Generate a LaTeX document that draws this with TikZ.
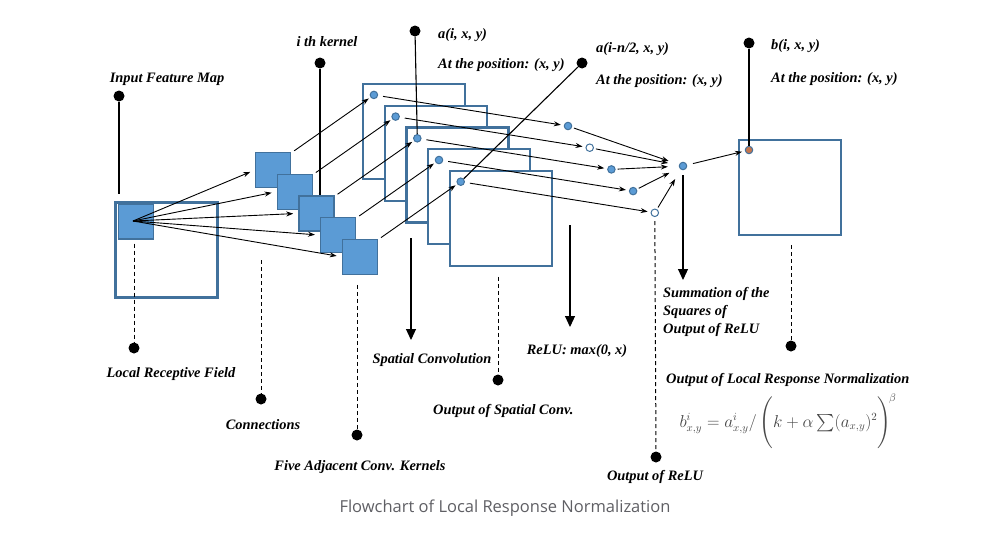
\documentclass[tikz,border=0pt]{standalone}
\usepackage{fontspec}
\setmainfont{Liberation Serif}
\newfontfamily\capfont{Open Sans}
\usepackage{amsmath}
\usetikzlibrary{arrows.meta, calc}
\definecolor{kernelblue}{RGB}{91,155,213}
\definecolor{edgeblue}{RGB}{65,113,156}
\definecolor{lrnorange}{RGB}{196,118,78}
\definecolor{capgray}{RGB}{95,95,100}

\tikzset{
  kernel/.style={draw=edgeblue, fill=kernelblue, line width=1.3pt, minimum width=35pt, minimum height=35pt, inner sep=0pt},
  fmap/.style={draw=edgeblue, fill=white, line width=2.2pt, minimum width=102pt, minimum height=95pt, inner sep=0pt},
  pixel/.style={circle, draw=edgeblue, fill=kernelblue, line width=1pt, minimum size=7.5pt, inner sep=0pt},
  hollow/.style={pixel, fill=white},
  tagdot/.style={circle, fill=black, minimum size=11pt, inner sep=0pt},
  tagtext/.style={font=\fontsize{14.4}{18}\selectfont\bfseries\itshape, inner sep=0pt},
  thin arrow/.style={-{Stealth[length=7pt,width=5pt]}, line width=0.9pt},
  big arrow/.style={-{Triangle[length=11pt,width=10pt]}, line width=1.1pt},
  lead/.style={line width=1.1pt},
  dashlead/.style={line width=1pt, dash pattern=on 4pt off 3pt},
}

\begin{document}
\begin{tikzpicture}[x=1pt, y=-1pt]
  \useasboundingbox (0,0) rectangle (1008,536);

  % Input feature map and local receptive field
  \node[fmap] (inmap) at (166.5,250) {};
  \node[kernel] (field) at (136,221.5) {};
  \coordinate (src) at (133,221);

  % Five adjacent kernels
  \foreach \i in {1,...,5}
    \node[kernel] (k\i) at ({273+21.7*(\i-1)}, {170+21.7*(\i-1)}) {};

  % Outputs of spatial convolution
  \foreach \i in {1,...,5} {
    \node[fmap] (m\i) at ({414+21.7*(\i-1)}, {131.5+21.7*(\i-1)}) {};
    \node[pixel] (d\i) at ($(m\i.north west)+(12,12)$) {};
  }

  % Outputs of ReLU and their summation
  \foreach \i/\s in {1/pixel,2/hollow,3/pixel,4/pixel,5/hollow}
    \node[\s] (r\i) at ({568+21.7*(\i-1)}, {126+21.7*(\i-1)}) {};
  \node[pixel] (sum) at (683,166) {};

  % Output of local response normalization
  \node[fmap] (outmap) at (790,187.5) {};
  \node[pixel, fill=lrnorange] (b) at (749,150) {};

  % Connections
  \foreach \i in {1,...,5} {
    \draw[thin arrow, shorten >=5pt] (src) -- (k\i.west);
    \draw[thin arrow, shorten >=2pt] ($(k\i.north east)+(3,-1)$) -- (d\i);
    \draw[thin arrow, shorten <=5pt, shorten >=3pt] (d\i) -- (r\i);
    \draw[thin arrow, shorten <=2pt, shorten >=11pt] (r\i) -- (sum);
  }
  \draw[thin arrow, shorten <=6pt, shorten >=3pt] (sum) -- (b);

  % Tags on top
  \node[tagdot] (tinput) at (119,96) {};
  \node[tagtext] (inputtext) at (167,79) {Input Feature Map};
  \draw[lead, shorten >=7pt] (tinput) -- (tinput |- inmap.north);

  \node[tagdot] (tkernel) at (320,63) {};
  \node[tagtext] (kerneltext) at (327,42) {i th kernel};
  \draw[lead] (tkernel) -- (tkernel |- k3.north);

  \node[tagdot] (ta) at (415,31) {};
  \node[tagtext, anchor=west] (atext) at (438,35) {a(i, x, y)};
  \node[tagtext, anchor=west] (aposition) at (438,65) {At the position: (x, y)};
  \draw[lead] (ta) -- (d3);

  \node[tagdot] (tan) at (582,63) {};
  \node[tagtext, anchor=west] (antext) at (596,49) {a(i-n/2, x, y)};
  \node[tagtext, anchor=west] (anposition) at (596,81) {At the position: (x, y)};
  \draw[lead] (tan) -- (d5);

  \node[tagdot] (tb) at (749,43) {};
  \node[tagtext, anchor=west] (btext) at (771,46) {b(i, x, y)};
  \node[tagtext, anchor=west] (bposition) at (771,79) {At the position: (x, y)};
  \draw[lead] (tb) -- (b);

  % Tags below
  \node[tagdot] (tfield) at (134,348) {};
  \node[tagtext] (fieldtext) at (171,374) {Local Receptive Field};
  \draw[dashlead, shorten <=4pt] (tfield |- field.south) -- (tfield);

  \coordinate (conn) at (261,260);
  \node[tagdot] (tconn) at (261,399) {};
  \node[tagtext] (conntext) at (263,425) {Connections};
  \draw[dashlead] (conn) -- (tconn);

  \node[tagdot] (tfive) at (357,435) {};
  \node[tagtext] (fivetext) at (360,467) {Five Adjacent Conv. Kernels};
  \draw[dashlead, shorten <=10pt] (tfive |- k5.south) -- (tfive);

  \node[tagdot] (tsconv) at (498,380) {};
  \node[tagtext, anchor=west] (sconvtext) at (433,411) {Output of Spatial Conv.};
  \draw[dashlead, shorten <=10pt] (tsconv |- m5.south) -- (tsconv);

  \node[tagdot] (trelu) at (656,457) {};
  \node[tagtext] (relutext) at (655,477) {Output of ReLU};
  \draw[dashlead, shorten <=4pt] (r5) -- (trelu);

  \node[tagdot] (tlrn) at (791,346) {};
  \node[tagtext, anchor=west] (lrntext) at (666,380) {Output of Local Response Normalization};
  \draw[dashlead, shorten <=9pt] (tlrn |- outmap.south) -- (tlrn);

  % Operations
  \coordinate (convstart) at (411,238);
  \coordinate (convend) at (411,340);
  \draw[big arrow] (convstart) -- (convend);
  \node[tagtext] (convtext) at (432,360) {Spatial Convolution};

  \coordinate (relustart) at (570,225);
  \coordinate (reluend) at (570,327);
  \draw[big arrow] (relustart) -- (reluend);
  \node[tagtext] (maxtext) at (577,351) {ReLU: max(0, x)};

  \node[tagtext, anchor=north west, align=left] (sumtext) at (663,287) {Summation of the\\Squares of\\Output of ReLU};
  \draw[big arrow, shorten <=5pt, shorten >=7pt] (sum) -- (sum |- sumtext.north);

  % Formula and caption
  \node[text=black!72, font=\fontsize{16}{18}\selectfont, inner sep=0pt] (formula) at (788,421)
    {$b^i_{x,y} = a^i_{x,y}/\left(\vrule height 19pt depth 19pt width 0pt k+\alpha\sum(a_{x,y})^2\right)^{\!\beta}$};
  \node[text=capgray, font=\capfont\fontsize{16.5}{18}\selectfont] (caption) at (505,508) {Flowchart of Local Response Normalization};
\end{tikzpicture}
\end{document}
